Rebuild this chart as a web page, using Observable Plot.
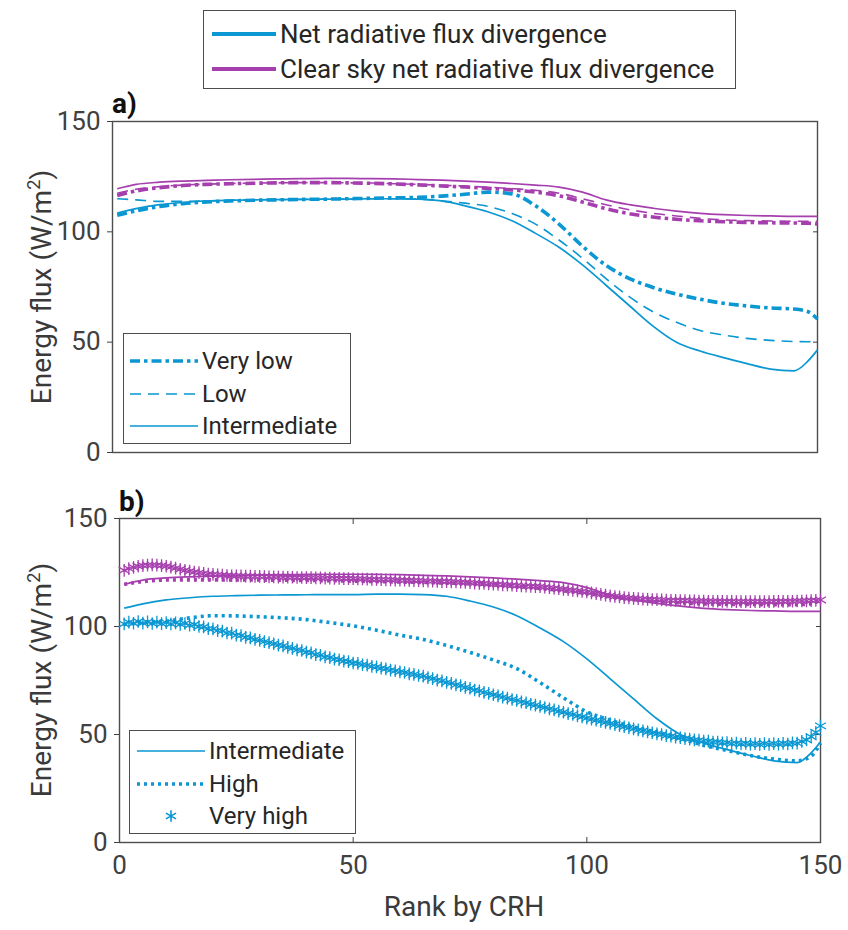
<!DOCTYPE html>
<html>
<head>
<meta charset="utf-8">
<script src="https://cdn.jsdelivr.net/npm/d3@7"></script>
<script src="https://cdn.jsdelivr.net/npm/@observablehq/plot@0.6"></script>
<style>
  body { margin: 0; background: #fff; }
  #fig { position: relative; width: 848px; height: 930px; overflow: hidden; background: #fff;
         font-family: Roboto, "Noto Sans", sans-serif; color: #262626; }
  #fig svg.plot { position: absolute; left: 0; }
  .box { position: absolute; border: 1.4px solid #4d4d4d; background: #fff; box-sizing: border-box; }
  .row { position: absolute; left: 0; height: 30px; display: flex; align-items: center; white-space: nowrap; }
  .row svg { flex: none; }
  .row span { margin-left: 4px; }
  .tag { position: absolute; font-weight: bold; font-size: 28px; color: #111; line-height: 1; }
  .ytitle { position: absolute; font-size: 28px; color: #3a3a3a; white-space: nowrap;
            transform: translate(-50%, -50%) rotate(-90deg); }
  .xtitle { position: absolute; font-size: 28px; color: #3a3a3a; white-space: nowrap;
            transform: translate(-50%, -50%); }
</style>
</head>
<body>
<div id="fig"></div>
<script>
// Net radiative flux divergence (all-sky and clear-sky) by CRH rank, per regime.
const rank = [1,5,10,15,20,25,30,35,40,45,50,55,60,65,70,75,80,85,90,95,100,105,110,115,120,125,130,135,140,145,148,150];

// Panel a
const veryLowNet   = [107.5,109.5,111.5,112.8,113.5,114,114.3,114.5,114.7,114.8,115,115.2,115.4,115.6,116.2,117,118,117.2,111.8,103.5,93.5,84.8,78.8,74.8,71.8,69.5,67.6,66.4,65.5,65,63.8,60.5];
const veryLowClear = [116.5,118.5,120,121,121.5,121.8,122,122.2,122.3,122.3,122.2,122,121.7,121.3,120.8,120.3,119.7,119,118,116.3,113.5,110.5,108.2,106.7,105.7,105,104.6,104.3,104.1,104,103.9,103.5];
const lowNet       = [115,114.5,113.8,113.8,114,114.3,114.5,114.6,114.7,114.8,114.9,115,115,114.8,114,113,111.5,108.3,103.5,96.3,88,78.8,70.5,63.8,59,55.3,53.2,51.7,50.8,50.3,50.2,50.5];
const lowClear     = [117.5,119.3,120.5,121.2,121.6,121.9,122.1,122.2,122.3,122.3,122.2,122.1,121.8,121.5,121.1,120.7,120.2,119.6,118.8,117.5,115,112.3,110,108.4,107.2,106.1,105.4,105.1,104.9,104.8,104.8,104.8];

// Shared by both panels
const intermediateNet   = [108.5,110.5,112.3,113.3,114,114.3,114.5,114.6,114.7,114.8,114.8,115,115,114.8,114,111.8,109,105,99.3,93,85,75.8,66.5,57.3,50,46,43,40.3,37.8,37,41.5,46.5];
const intermediateClear = [119.5,121.5,122.5,123,123.3,123.6,123.8,124,124.1,124.2,124.2,124.1,124,123.7,123.4,123,122.5,121.9,121.2,120.3,118,114.5,112.3,110.7,109.4,108.4,107.8,107.4,107.2,107,107,107];

// Panel b
const highNet   = [101,101.8,102.5,104,105,104.9,104.5,104,103.2,101.8,100.3,98.3,96,94,91.2,88,84.5,80.5,74,67,60.5,56.6,53.5,51,48.2,45,42.6,40.3,38.6,37.8,40,46];
const highClear = [119.5,120.8,121.5,121.6,121.6,121.5,121.5,121.4,121.3,121.2,121,120.8,120.6,120.4,120.1,119.8,119.3,118.6,117.6,116.5,115.3,113.8,112.5,111.5,110.9,110.5,110.3,110.2,110.1,110.1,110.6,112.3];

// Very high regime: one value per rank 1..150
const veryHighNet = [
  101.2,102.0,101.5,102.3,101.6,102.1,101.4,102.0,101.3,101.8,
  101.2,101.7,101.0,101.4,100.6,100.9,100.0,99.8,99.0,98.9,
  98.1,97.9,97.0,96.9,96.0,95.8,95.0,94.7,94.0,93.6,
  93.0,92.5,92.0,91.4,91.0,90.3,89.9,89.2,88.9,88.1,
  87.8,87.0,86.7,85.9,85.6,84.9,84.6,84.0,83.7,83.1,
  82.9,82.3,82.1,81.5,81.3,80.7,80.4,79.8,79.5,79.0,
  78.7,78.1,77.8,77.3,77.0,76.3,75.9,75.2,74.8,74.1,
  73.7,73.0,72.6,71.8,71.4,70.6,70.2,69.5,69.0,68.4,
  67.9,67.3,66.8,66.2,65.8,65.1,64.7,64.0,63.6,63.0,
  62.5,61.9,61.4,60.8,60.3,59.7,59.3,58.6,58.2,57.6,
  57.1,56.6,56.1,55.6,55.1,54.6,54.1,53.6,53.1,52.6,
  52.1,51.7,51.2,50.8,50.3,50.0,49.5,49.2,48.8,48.5,
  48.1,47.9,47.5,47.4,47.0,46.9,46.5,46.5,46.1,46.2,
  45.8,46.0,45.6,45.9,45.5,45.8,45.4,45.8,45.4,45.8,
  45.5,45.9,45.6,46.1,46.0,46.8,47.5,49.0,51.0,54.0
];
const veryHighClear = [
  126.0,126.8,127.4,127.9,128.2,128.4,128.5,128.4,128.2,127.9,
  127.5,127.0,126.5,126.0,125.6,125.2,124.9,124.6,124.3,124.1,
  123.9,123.8,123.6,123.5,123.4,123.4,123.3,123.3,123.2,123.2,
  123.1,123.0,123.0,122.9,122.9,122.8,122.8,122.7,122.7,122.6,
  122.6,122.5,122.5,122.4,122.4,122.3,122.3,122.2,122.2,122.1,
  122.0,122.0,121.9,121.8,121.8,121.7,121.6,121.6,121.5,121.4,
  121.4,121.3,121.2,121.2,121.1,121.0,121.0,120.9,120.8,120.8,
  120.7,120.6,120.5,120.4,120.3,120.1,120.0,119.9,119.7,119.6,
  119.5,119.3,119.2,119.1,118.9,118.8,118.7,118.6,118.5,118.4,
  118.2,118.0,117.7,117.5,117.2,117.0,116.7,116.5,116.2,116.0,
  115.6,115.2,114.9,114.5,114.2,113.9,113.7,113.4,113.2,113.0,
  112.9,112.7,112.6,112.5,112.4,112.3,112.2,112.1,112.1,112.0,
  112.0,111.9,111.9,111.8,111.8,111.7,111.7,111.7,111.6,111.6,
  111.6,111.5,111.5,111.5,111.5,111.5,111.5,111.5,111.5,111.6,
  111.6,111.6,111.7,111.7,111.8,111.8,111.9,112.0,112.1,112.3
];
const rankFine = veryHighNet.map((_, i) => i + 1);

const yTicks = [0, 50, 100, 150];
const xTicks = [0, 50, 100, 150];

const BLUE = "#0a97d2";
const PURPLE = "#a63fae";
const styles = {
  "Very low":     {strokeWidth: 3.6, strokeDasharray: "10,4,3.5,4"},
  "Low":          {strokeWidth: 1.6, strokeDasharray: "11,7"},
  "Intermediate": {strokeWidth: 1.7, strokeDasharray: null},
  "High":         {strokeWidth: 3.6, strokeDasharray: "3,4"}
};

const rows = (xs, ys) => xs.map((x, i) => ({x, y: ys[i]}));
const line = (ys, color, kind) =>
  Plot.line(rows(rank, ys), {x: "x", y: "y", stroke: color, curve: "monotone-x",
    strokeLinecap: "butt", strokeLinejoin: "round", ...styles[kind]});
const stars = (ys, color) =>
  Plot.dot(rows(rankFine, ys), {x: "x", y: "y", symbol: "asterisk", r: 6, stroke: color, strokeWidth: 1.3});

function frameMarks(withX) {
  const m = [
    Plot.frame({stroke: "#4d4d4d", strokeWidth: 1.4}),
    Plot.axisY({anchor: "left", ticks: yTicks, tickSize: 5, tickPadding: 7, label: null, fontSize: 26}),
    Plot.axisY({anchor: "right", ticks: [50, 100], tickSize: -5, tickFormat: () => "", label: null})
  ];
  if (withX) {
    m.push(
      Plot.axisX({anchor: "bottom", ticks: xTicks, tickSize: 0, tickPadding: 13, label: null, fontSize: 26}),
      Plot.axisX({anchor: "bottom", ticks: [50, 100], tickSize: -5, tickFormat: () => "", label: null}),
      Plot.axisX({anchor: "top", ticks: [50, 100], tickSize: -5, tickFormat: () => "", label: null})
    );
  }
  return m;
}

const common = {
  width: 848,
  y: {domain: [0, 150]},
  x: {domain: [0, 150]},
  style: {fontFamily: "Roboto, sans-serif", fontSize: "26px", color: "#404040", background: "transparent", overflow: "visible"}
};

const plotA = Plot.plot({
  ...common,
  height: 380, marginTop: 21, marginBottom: 28, marginLeft: 112, marginRight: 31,
  x: {domain: [0, 150], axis: null},
  marks: [
    ...frameMarks(false),
    line(veryLowNet, BLUE, "Very low"),
    line(lowNet, BLUE, "Low"),
    line(intermediateNet, BLUE, "Intermediate"),
    line(veryLowClear, PURPLE, "Very low"),
    line(lowClear, PURPLE, "Low"),
    line(intermediateClear, PURPLE, "Intermediate")
  ]
});

const plotB = Plot.plot({
  ...common,
  height: 430, marginTop: 18, marginBottom: 88, marginLeft: 119, marginRight: 28,
  marks: [
    ...frameMarks(true),
    line(intermediateNet, BLUE, "Intermediate"),
    line(highNet, BLUE, "High"),
    stars(veryHighNet, BLUE),
    line(intermediateClear, PURPLE, "Intermediate"),
    line(highClear, PURPLE, "High"),
    stars(veryHighClear, PURPLE)
  ]
});

const fig = document.getElementById("fig");
plotA.classList.add("plot"); plotA.style.top = "100px";
plotB.classList.add("plot"); plotB.style.top = "500px";
fig.append(plotA, plotB);

// legend swatches
function swatch(kind, color, w, sw) {
  const h = 16;
  if (kind === "star") {
    const d = d3.symbol(d3.symbolAsterisk, 95)();
    return `<svg width="${w}" height="${h}"><path d="${d}" transform="translate(${w / 2},${h / 2})" fill="none" stroke="${color}" stroke-width="1.6"/></svg>`;
  }
  const s = styles[kind] || {};
  const width = sw || s.strokeWidth;
  const dash = s.strokeDasharray ? `stroke-dasharray="${s.strokeDasharray}"` : "";
  return `<svg width="${w}" height="${h}"><line x1="0" x2="${w}" y1="${h / 2}" y2="${h / 2}" stroke="${color}" stroke-width="${width}" ${dash}/></svg>`;
}

function legend(box, entries) {
  const div = document.createElement("div");
  div.className = "box";
  Object.assign(div.style, {left: box.left + "px", top: box.top + "px", width: box.width + "px", height: box.height + "px"});
  entries.forEach((e, i) => {
    const r = document.createElement("div");
    r.className = "row";
    r.style.top = (box.first + i * box.step - 15) + "px";
    r.style.left = box.pad + "px";
    r.style.fontSize = box.fontSize + "px";
    r.innerHTML = swatch(e.kind, e.color, box.sample, e.sw) + `<span>${e.label}</span>`;
    div.append(r);
  });
  fig.append(div);
}

legend({left: 203, top: 10, width: 533, height: 79, first: 23, step: 35, pad: 8, sample: 64, fontSize: 26}, [
  {kind: "Intermediate", color: BLUE, sw: 4, label: "Net radiative flux divergence"},
  {kind: "Intermediate", color: PURPLE, sw: 4, label: "Clear sky net radiative flux divergence"}
]);

legend({left: 123, top: 333, width: 228, height: 111, first: 27, step: 32.5, pad: 6, sample: 68, fontSize: 24}, [
  {kind: "Very low", color: BLUE, label: "Very low"},
  {kind: "Low", color: BLUE, label: "Low"},
  {kind: "Intermediate", color: BLUE, label: "Intermediate"}
]);

legend({left: 129, top: 730, width: 227, height: 104, first: 20, step: 32.5, pad: 7, sample: 68, fontSize: 24}, [
  {kind: "Intermediate", color: BLUE, label: "Intermediate"},
  {kind: "High", color: BLUE, label: "High"},
  {kind: "star", color: BLUE, label: "Very high"}
]);

// panel tags and axis titles
function text(cls, str, x, y) {
  const el = document.createElement("div");
  el.className = cls;
  el.innerHTML = str;
  el.style.left = x + "px";
  el.style.top = y + "px";
  fig.append(el);
}
const yTitle = "Energy flux (W/m<sup style=\"font-size:0.65em;vertical-align:0.6em;line-height:0\">2</sup>)";
text("tag", "a)", 112, 90);
text("tag", "b)", 119, 488);
text("ytitle", yTitle, 41, 287);
text("ytitle", yTitle, 41, 680);
text("xtitle", "Rank by CRH", 464, 906);
</script>
</body>
</html>
